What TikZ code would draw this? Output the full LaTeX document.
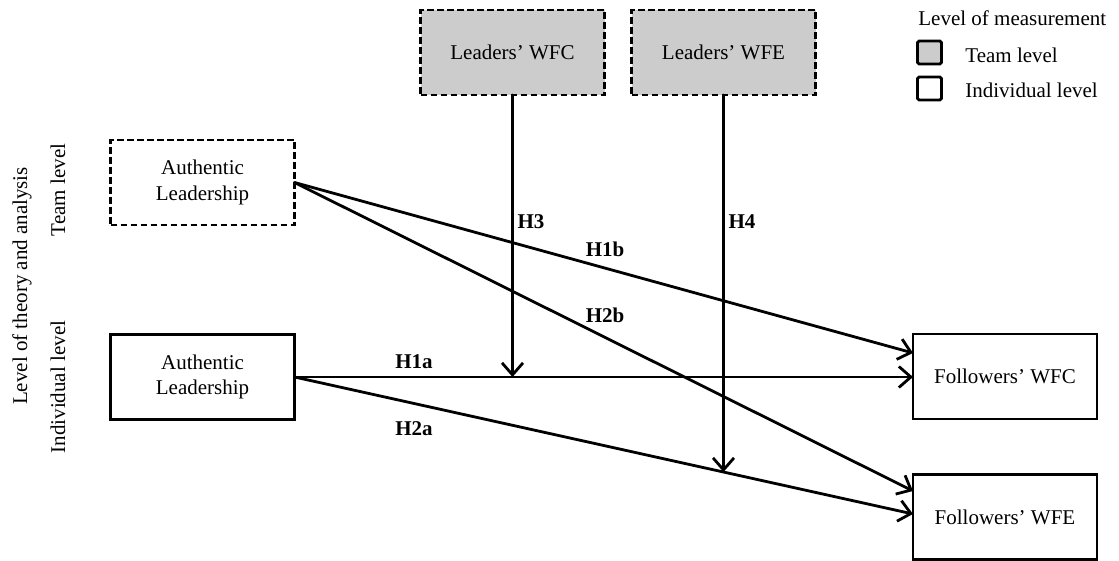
\documentclass[tikz,border=0pt]{standalone}
\usepackage{fontspec}
\setmainfont{Liberation Serif}
\usetikzlibrary{arrows.meta,intersections}
\definecolor{teamgray}{RGB}{204,204,204}
\tikzset{
  base/.style={font=\fontsize{10.5}{12.6}\selectfont},
  box/.style={base, draw, line width=1.3pt, minimum width=92pt, minimum height=42.5pt,
    inner sep=2pt, outer sep=0pt, align=center},
  teambox/.style={box, dash pattern=on 3.4pt off 1.6pt},
  leaderbox/.style={teambox, fill=teamgray},
  link/.style={line width=1.4pt, line cap=round,
    -{Straight Barb[length=6pt,width=10.5pt,line width=1.4pt]}},
  hyp/.style={base, font=\fontsize{10.5}{12.6}\selectfont\bfseries, inner sep=0pt},
  sidelabel/.style={base, rotate=90, inner sep=0pt},
  legtext/.style={base, anchor=west, inner sep=0pt},
  legsq/.style={draw, line width=1.4pt, rounded corners=0.8pt, minimum width=12pt,
    minimum height=11.5pt, inner sep=0pt}
}
\begin{document}
\begin{tikzpicture}[x=0.5pt,y=-0.5pt]
\useasboundingbox (0,0) rectangle (1119,561);

% moderators (team level)
\node[leaderbox] (lwfc) at (512.5,52.5) {Leaders’ WFC};
\node[leaderbox] (lwfe) at (723.5,52.5) {Leaders’ WFE};

% predictors
\node[teambox] (alt) at (202.5,182.5) {Authentic\\Leadership};
\node[box] (ali) at (202.5,377) {Authentic\\Leadership};

% outcomes
\node[box] (fwfc) at (1005,376.5) {Followers’ WFC};
\node[box] (fwfe) at (1005,517) {Followers’ WFE};

% direct paths
\draw[link] (alt.east) -- ([yshift=11.75pt]fwfc.west);
\draw[link] (alt.east) -- ([yshift=13pt]fwfe.west);
\draw[link] (ali.east) -- (ali.east -| fwfc.west);
\draw[link, name path=pathHtwoa] (ali.east) -- ([yshift=1.5pt]fwfe.west);

% moderating paths
\path[name path=dropHfour] (lwfe.south) -- ++(0,500);
\path[name intersections={of=pathHtwoa and dropHfour, by=hfourend}];
\draw[link] (lwfc.south) -- (lwfc.south |- ali.east);
\draw[link] (lwfe.south) -- (hfourend);

% hypothesis labels
\node[hyp] (h3) at (531,222) {H3};
\node[hyp] (h4) at (742,222) {H4};
\node[hyp] (h1b) at (605,249) {H1b};
\node[hyp] (h2b) at (605,315) {H2b};
\node[hyp] (h1a) at (414,362) {H1a};
\node[hyp] (h2a) at (414,429) {H2a};

% level of theory labels
\node[sidelabel] (lvl) at (22,286) {Level of theory and analysis};
\node[sidelabel] (lvlteam) at (58,190) {Team level};
\node[sidelabel] (lvlind) at (58,387) {Individual level};

% legend
\node[legtext] (legtitle) at (918,18) {Level of measurement};
\node[legsq, fill=teamgray] (sqteam) at (929.5,52.5) {};
\node[legsq] (sqind) at (929.5,88.5) {};
\node[legtext] (legteam) at (965,55) {Team level};
\node[legtext] (legind) at (965,90) {Individual level};
\end{tikzpicture}
\end{document}
